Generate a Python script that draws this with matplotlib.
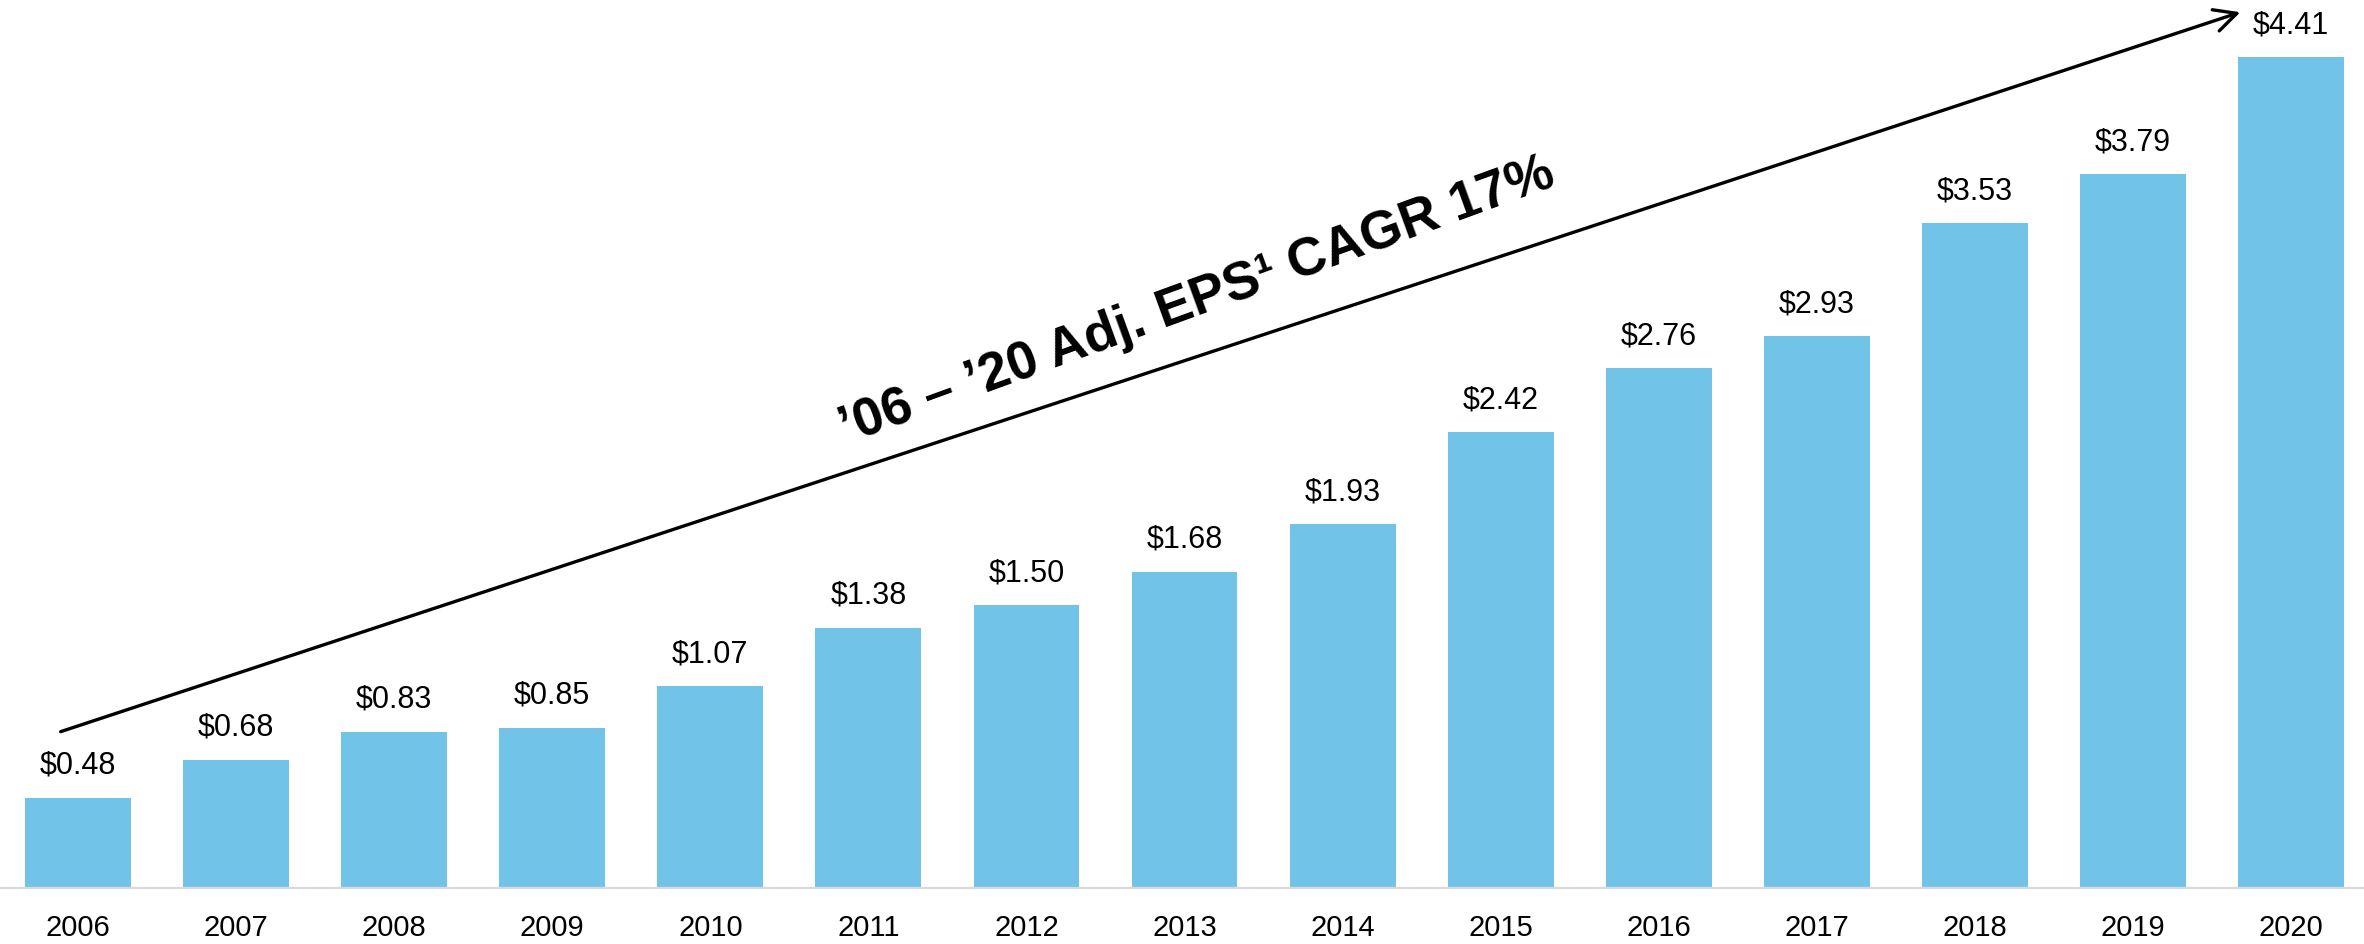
import matplotlib
matplotlib.use("Agg")
import matplotlib.pyplot as plt

years = ["2006", "2007", "2008", "2009", "2010", "2011", "2012", "2013",
         "2014", "2015", "2016", "2017", "2018", "2019", "2020"]
eps = [0.48, 0.68, 0.83, 0.85, 1.07, 1.38, 1.50, 1.68,
       1.93, 2.42, 2.76, 2.93, 3.53, 3.79, 4.41]
labels = ["$" + format(v, ".2f") for v in eps]
cagr_text = "\u201906 \u2013 \u201920 Adj. EPS\u00b9 CAGR 17%"

plt.rcParams["font.family"] = ["Liberation Sans", "DejaVu Sans"]

fig = plt.figure(figsize=(23.64, 9.45), dpi=100)
ax = fig.add_axes([0, 0.0593, 1, 0.9407])

x = range(len(years))
bars = ax.bar(x, eps, width=0.67, color="#71C4E8", zorder=2)

for b, lab in zip(bars, labels):
    ax.annotate(lab, (b.get_x() + b.get_width() / 2, b.get_height()),
                xytext=(0, 13), textcoords="offset points",
                ha="center", va="bottom", fontsize=22, color="black")

ax.set_xlim(-0.494, 14.462)
ax.set_ylim(0, 4.72)
ax.set_xticks(list(x))
ax.set_xticklabels(years, fontsize=21)
ax.tick_params(axis="x", length=0, pad=18)
ax.set_yticks([])

for s in ["top", "left", "right"]:
    ax.spines[s].set_visible(False)
ax.spines["bottom"].set_color("#D9D9D9")
ax.spines["bottom"].set_linewidth(1.6)

# trend arrow over the bars
x0, y0 = -0.11, eps[0] + 0.35
x1, y1 = len(eps) - 1 - 0.32, eps[-1] + 0.24
ax.annotate("", xy=(x1, y1), xytext=(x0, y0),
            arrowprops=dict(arrowstyle="->", color="black", lw=2.4,
                            mutation_scale=40, shrinkA=0, shrinkB=0),
            annotation_clip=False)

ax.text(7.08, 3.12, cagr_text, rotation=20, rotation_mode="anchor",
        ha="center", va="center", fontsize=38.5, fontweight="bold", color="black")

fig.savefig("out.png", dpi=100)
